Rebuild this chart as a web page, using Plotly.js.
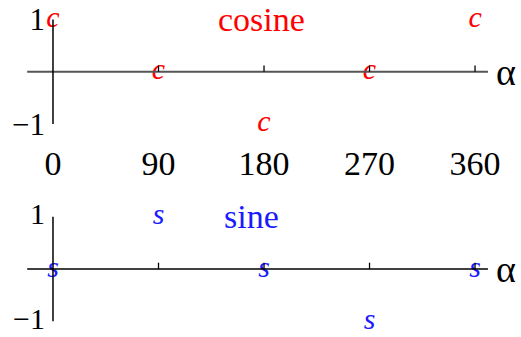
<!DOCTYPE html>
<html>
<head>
<meta charset="utf-8">
<script src="https://cdn.plot.ly/plotly-3.0.1.min.js"></script>
<style>
  html, body { margin: 0; padding: 0; background: #fff; }
  #chart { width: 521px; height: 337px; }
</style>
</head>
<body>
<div id="chart"></div>
<script>
// Angles in degrees and the two functions sampled at them
const angles = [0, 90, 180, 270, 360];
const cosValues = [1, 0, -1, 0, 1];
const sinValues = [0, 1, 0, -1, 0];
const angleLabels = ['0', '90', '180', '270', '360'];
const yTicks = [-1, 1];
const yTickLabels = ['\u22121', '1'];
const axisExtent = [-22, 371];   // horizontal axis line, in degrees
const tickHeight = 0.12;         // tick marks above each axis, in y units

const serif = '"Liberation Serif", "Times New Roman", serif';
const RED = '#ff0000';
const BLUE = '#1a1aff';

const traces = [
  {
    x: angles, y: cosValues, xaxis: 'x', yaxis: 'y',
    type: 'scatter', mode: 'text', text: angles.map(() => 'c'),
    textposition: 'middle center', cliponaxis: false,
    textfont: { family: serif, size: 30, color: RED, style: 'italic' },
    hoverinfo: 'skip', showlegend: false
  },
  {
    x: angles, y: sinValues, xaxis: 'x2', yaxis: 'y2',
    type: 'scatter', mode: 'text', text: angles.map(() => 's'),
    textposition: 'middle center', cliponaxis: false,
    textfont: { family: serif, size: 30, color: BLUE, style: 'italic' },
    hoverinfo: 'skip', showlegend: false
  }
];

// Axis lines and ticks for one panel, drawn in that panel's data space
function axisShapes(xref, yref, hColor, hWidth) {
  const s = [];
  s.push({ type: 'line', xref, yref, x0: axisExtent[0], x1: axisExtent[1], y0: 0, y1: 0,
           line: { color: hColor, width: hWidth } });
  s.push({ type: 'line', xref, yref, x0: 0, x1: 0, y0: yTicks[0], y1: yTicks[1],
           line: { color: '#000', width: 1.5 } });
  angles.slice(1).forEach(a => s.push({
    type: 'line', xref, yref, x0: a, x1: a, y0: 0, y1: tickHeight,
    line: { color: '#000', width: 1.3 }
  }));
  return s;
}

const xRange = [-45.2, 399.2];
const yPos = 53 / 521;

const baseX = {
  range: xRange, showgrid: false, zeroline: false, showline: false,
  ticks: '', fixedrange: true
};
const baseY = {
  showgrid: false, zeroline: false, showline: false, ticks: '',
  tickvals: yTicks, ticktext: yTickLabels, anchor: 'free', position: yPos,
  tickfont: { family: serif, size: 31, color: '#000' },
  ticklabelstandoff: 8, ticklabeloverflow: 'allow', fixedrange: true
};

const layout = {
  width: 521, height: 337,
  margin: { l: 0, r: 0, t: 0, b: 0 },
  paper_bgcolor: '#fff', plot_bgcolor: '#fff',
  showlegend: false,
  xaxis: Object.assign({}, baseX, {
    domain: [0, 1], anchor: 'y',
    tickvals: angles, ticktext: angleLabels,
    tickfont: { family: serif, size: 34, color: '#000' }
  }),
  yaxis: Object.assign({}, baseY, { domain: [0.5846, 1], range: [-1.308, 1.374] }),
  xaxis2: Object.assign({}, baseX, {
    domain: [0, 1], anchor: 'y2', showticklabels: false
  }),
  yaxis2: Object.assign({}, baseY, {
    domain: [0, 0.4362], range: [-1.300, 1.5105], ticklabelshift: -3,
    tickfont: { family: serif, size: 30, color: '#000' }
  }),
  shapes: axisShapes('x', 'y', '#555', 2).concat(axisShapes('x2', 'y2', '#000', 1.3)),
  annotations: [
    { xref: 'x', yref: 'y', x: 178, y: 1, text: 'cosine', showarrow: false,
      xanchor: 'center', yanchor: 'middle',
      font: { family: serif, size: 34, color: RED } },
    { xref: 'x2', yref: 'y2', x: 169, y: 1, text: 'sine', showarrow: false,
      xanchor: 'center', yanchor: 'middle',
      font: { family: serif, size: 34, color: BLUE } },
    { xref: 'x', yref: 'y', x: 376, y: 0, text: '\u03b1', showarrow: false,
      xanchor: 'left', yanchor: 'middle',
      font: { family: serif, size: 38, color: '#000' } },
    { xref: 'x2', yref: 'y2', x: 376, y: 0, text: '\u03b1', showarrow: false,
      xanchor: 'left', yanchor: 'middle',
      font: { family: serif, size: 38, color: '#000' } }
  ]
};

Plotly.newPlot('chart', traces, layout, { staticPlot: true, displayModeBar: false });
</script>
</body>
</html>
